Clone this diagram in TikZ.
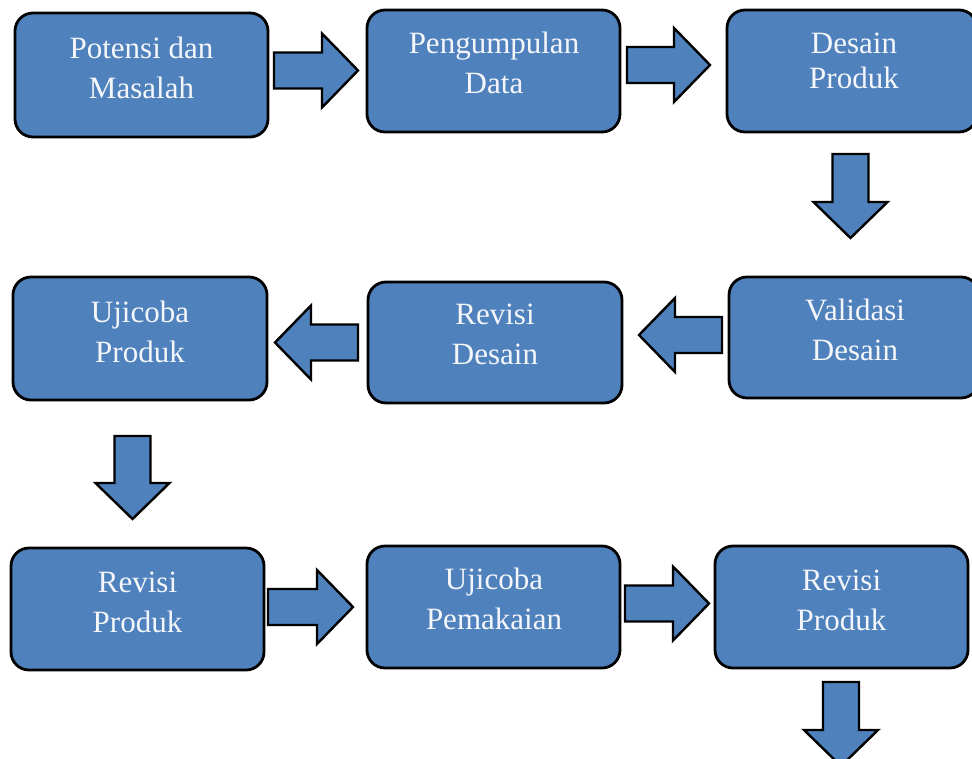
\documentclass[tikz,border=0pt]{standalone}
\usepackage{fontspec}
\setmainfont{Liberation Serif}
\definecolor{boxblue}{HTML}{4F81BD}
\definecolor{txtwhite}{HTML}{F4F6FA}
\tikzset{
  stagebox/.style={draw=black, fill=boxblue, line width=2.8pt, rounded corners=18pt,
    minimum width=253pt, minimum height=122pt, inner sep=0pt},
  stagetext/.style={text=txtwhite, align=center, anchor=base, inner sep=0pt,
    font=\fontsize{31}{40}\selectfont},
  blockarrowstyle/.style={draw=black, fill=boxblue, line width=2.4pt, line join=miter}
}
\newcommand{\blockarrow}[3]{% #1 tail coordinate, #2 angle, #3 length
  \begin{scope}[shift={(#1)}, rotate=#2]
    \draw[blockarrowstyle] (0,-18) -- ({#3-36},-18) -- ({#3-36},-37) -- (#3,0)
      -- ({#3-36},37) -- ({#3-36},18) -- (0,18) -- cycle;
  \end{scope}}
\begin{document}
\begin{tikzpicture}[x=1pt,y=-1pt]
\useasboundingbox (0,0) rectangle (972,758);
% boxes
\node[stagebox, minimum height=124pt] (b1) at (141.5,75) {};
\node[stagebox] (b2) at (493.5,71) {};
\node[stagebox, minimum width=250pt] (b3) at (852,71) {};
\node[stagebox, minimum width=250pt, minimum height=121pt] (b4) at (854,337.5) {};
\node[stagebox, minimum width=254pt, minimum height=121pt] (b5) at (495,342.5) {};
\node[stagebox, minimum width=254pt, minimum height=123pt] (b6) at (140,338.5) {};
\node[stagebox] (b7) at (137.5,609) {};
\node[stagebox] (b8) at (493.5,607) {};
\node[stagebox] (b9) at (841.5,607) {};
% texts (anchor = baseline of the last line)
\node[stagetext] (t1) at (141.5,98) {Potensi dan\\Masalah};
\node[stagetext] (t2) at (494,93) {Pengumpulan\\Data};
\node[stagetext, font=\fontsize{31}{35}\selectfont] (t3) at (854,88) {Desain\\Produk};
\node[stagetext] (t4) at (855,360) {Validasi\\Desain};
\node[stagetext] (t5) at (495,364) {Revisi\\Desain};
\node[stagetext] (t6) at (140,362) {Ujicoba\\Produk};
\node[stagetext] (t7) at (137.5,632) {Revisi\\Produk};
\node[stagetext] (t8) at (494,629) {Ujicoba\\Pemakaian};
\node[stagetext] (t9) at (841.5,630) {Revisi\\Produk};
% arrow tails
\coordinate (a1) at (274,70.5);
\coordinate (a2) at (627,65);
\coordinate (a3) at (850.5,154);
\coordinate (a4) at (722,335);
\coordinate (a5) at (358,342.5);
\coordinate (a6) at (132.5,436);
\coordinate (a7) at (268,607);
\coordinate (a8) at (625,603.5);
\coordinate (a9) at (841,682);
\blockarrow{a1}{0}{84}
\blockarrow{a2}{0}{83}
\blockarrow{a3}{-90}{84}
\blockarrow{a4}{180}{83}
\blockarrow{a5}{180}{83}
\blockarrow{a6}{-90}{83}
\blockarrow{a7}{0}{85}
\blockarrow{a8}{0}{84}
\blockarrow{a9}{-90}{84}
\end{tikzpicture}
\end{document}
